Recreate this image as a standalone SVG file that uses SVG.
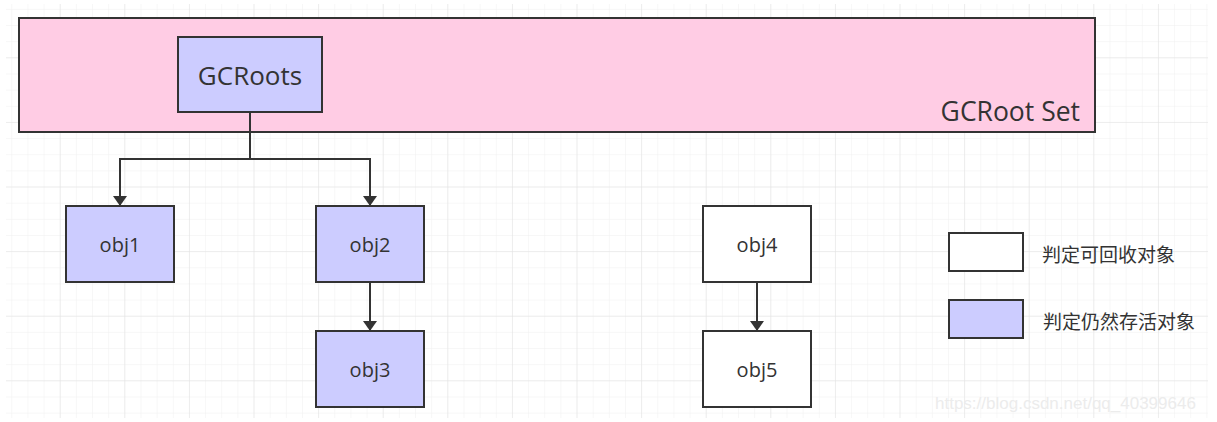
<svg xmlns="http://www.w3.org/2000/svg" width="1217" height="422" viewBox="0 0 1217 422">
<defs>
<pattern id="minor" patternUnits="userSpaceOnUse" x="-3.9" y="-6.3" width="16.15" height="16.15">
<path d="M16.15 0V16.15M0 16.15H16.15" fill="none" stroke="#efefef" stroke-width="1"/>
</pattern>
<pattern id="major" patternUnits="userSpaceOnUse" x="-3.9" y="-6.3" width="64.6" height="64.6">
<path d="M64.6 0V64.6M0 64.6H64.6" fill="none" stroke="#e2e2e2" stroke-width="1"/>
</pattern>
<marker id="arrow" viewBox="0 0 10 14" refX="10" refY="7" markerWidth="10" markerHeight="14" markerUnits="userSpaceOnUse" orient="auto">
<path d="M0 0L10 7L0 14Z" fill="#333"/>
</marker>
<style>
.box{stroke:#333;stroke-width:2}
.blue{fill:#ccccff}
.white{fill:#ffffff}
.lbl{font-family:"Open Sans","Noto Sans",sans-serif;fill:#333;text-anchor:middle;dominant-baseline:central}
.cjk{font-family:"Noto Sans CJK SC",sans-serif;fill:#333;font-size:19px;dominant-baseline:central}
.conn{fill:none;stroke:#333;stroke-width:2}
</style>
</defs>
<rect width="1217" height="422" fill="#ffffff"/>
<rect x="6" y="4" width="1202" height="414" fill="url(#minor)"/>
<rect x="6" y="4" width="1202" height="414" fill="url(#major)"/>

<g id="gcroot-set">
<rect x="19" y="18" width="1076" height="114" fill="#ffcce4" class="box"/>
<text x="1080" y="111" class="lbl" style="text-anchor:end;font-size:26.5px">GCRoot Set</text>
</g>
<g id="gcroots">
<rect x="178" y="37" width="144" height="75" class="box blue"/>
<text x="250" y="75" class="lbl" style="font-size:26px">GCRoots</text>
</g>
<g id="obj1">
<rect x="66" y="206" width="108" height="76" class="box blue"/>
<text x="120" y="244" class="lbl" style="font-size:20px">obj1</text>
</g>
<g id="obj2">
<rect x="316" y="206" width="108" height="76" class="box blue"/>
<text x="370" y="244" class="lbl" style="font-size:20px">obj2</text>
</g>
<g id="obj3">
<rect x="316" y="331" width="108" height="76" class="box blue"/>
<text x="370" y="369" class="lbl" style="font-size:20px">obj3</text>
</g>
<g id="obj4">
<rect x="703" y="206" width="108" height="76" class="box white"/>
<text x="757" y="244" class="lbl" style="font-size:20px">obj4</text>
</g>
<g id="obj5">
<rect x="703" y="331" width="108" height="76" class="box white"/>
<text x="757" y="369" class="lbl" style="font-size:20px">obj5</text>
</g>
<g id="legend-recyclable">
<rect x="949" y="233" width="74" height="38" class="box white"/>
<text x="1042" y="253" class="cjk">判定可回收对象</text>
</g>
<g id="legend-alive">
<rect x="949" y="300" width="74" height="38" class="box blue"/>
<text x="1043" y="320" class="cjk">判定仍然存活对象</text>
</g>
<g id="connectors">
<path d="M250 112V159H120V206" class="conn" marker-end="url(#arrow)"/>
<path d="M250 159H370V206" class="conn" marker-end="url(#arrow)"/>
<path d="M370 282V331" class="conn" marker-end="url(#arrow)"/>
<path d="M757 282V331" class="conn" marker-end="url(#arrow)"/>
</g>
<text x="935" y="403" style="font-family:'Liberation Sans',sans-serif;font-size:17px;fill:#ececec;dominant-baseline:central">https://blog.csdn.net/qq_40399646</text>
</svg>
